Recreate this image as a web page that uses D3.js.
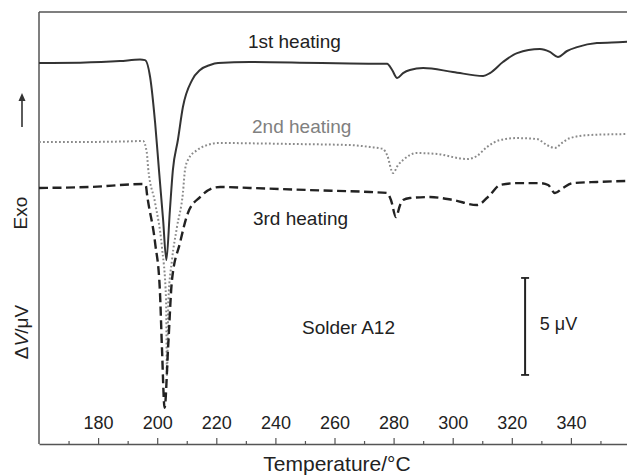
<!DOCTYPE html>
<html>
<head>
<meta charset="utf-8">
<script src="https://cdn.jsdelivr.net/npm/d3@7"></script>
<style>
    body { margin: 0; background: #fff; }
    text { font-family: "Liberation Sans", Arial, sans-serif; fill: #222; }
</style>
</head>
<body>
<div id="chart"></div>
<script>
// DTA traces: [temperature in °C, signal in µV]
const heating1 = [
    [160, 19.64], [173.9, 19.66], [187.4, 19.74], [194.2, 19.82], [195.9, 19.79],
    [197.6, 18.92], [199.3, 16.55], [200.6, 14.12], [202.0, 11.55], [203.1, 9.48],
    [204.3, 12.06], [205.3, 14.12], [207.0, 15.67], [208.7, 17.37], [211.8, 18.76],
    [214.5, 19.28], [217.9, 19.54], [220.6, 19.64], [231.4, 19.69], [248.3, 19.66],
    [265.2, 19.61], [277.8, 19.60], [279.5, 19.28], [281.2, 18.87], [283.2, 19.12],
    [285.5, 19.28], [290.0, 19.38], [300.1, 19.18], [310.3, 18.97], [312.6, 19.12],
    [317.0, 19.69], [321.8, 20.15], [329.5, 20.36], [332.9, 20.21], [335.6, 19.95],
    [338.7, 20.26], [342.1, 20.46], [348.8, 20.67], [357.6, 20.72], [360, 20.74]
];

const heating2 = [
    [160, 15.57], [175, 15.57], [190, 15.60], [195.2, 15.62], [196.5, 15.00],
    [196.9, 14.28], [199.3, 12.42], [201.6, 10.15], [203.0, 7.42], [203.3, 3.56],
    [203.8, 7.42], [205.0, 9.48], [206.7, 11.19], [208.7, 12.94], [209.4, 14.12],
    [210.4, 14.64], [213.5, 15.15], [216.9, 15.41], [220.6, 15.52], [231.4, 15.50],
    [248.3, 15.46], [265.2, 15.41], [272.0, 15.31], [276.4, 15.21], [277.8, 14.90],
    [279.8, 13.97], [281.5, 14.38], [283.2, 14.64], [287.9, 15.00], [294.7, 14.95],
    [304.8, 14.69], [308.2, 14.85], [311.6, 15.31], [316.0, 15.67], [321.8, 15.77],
    [328.5, 15.72], [331.9, 15.41], [334.6, 15.26], [337.0, 15.52], [339.7, 15.77],
    [346.5, 15.93], [360, 15.98]
];

const heating3 = [
    [160, 13.20], [177.3, 13.25], [195.2, 13.40], [196.2, 13.30], [196.5, 12.94],
    [199.3, 10.36], [200.9, 7.94], [201.6, 5.00], [202.5, 1.86], [203.7, 5.00],
    [205.0, 8.45], [207.7, 10.36], [210.4, 11.91], [214.5, 12.73], [218.9, 13.20],
    [221.3, 13.25], [231.4, 13.20], [251.7, 13.09], [272.0, 12.99], [277.8, 12.94],
    [279.1, 12.58], [280.8, 11.70], [282.2, 12.32], [283.2, 12.58], [285.5, 12.68],
    [292.3, 12.73], [300.1, 12.58], [308.2, 12.32], [312.6, 12.84], [316.0, 13.35],
    [321.8, 13.45], [329.5, 13.45], [332.3, 13.35], [334.6, 12.94], [337.3, 13.20],
    [340.7, 13.45], [348.8, 13.51], [360, 13.56]
];

const majorTicks = [180, 200, 220, 240, 260, 280, 300, 320, 340];
const minorTicks = [170, 190, 210, 230, 250, 270, 290, 310, 330, 350];

// 5 µV scale bar: temperature position, bottom and top in µV
const scaleBar = { t: 324.5, from: 3.56, to: 8.56 };

const margin = { top: 12, right: 0, bottom: 31, left: 39 };
const width = 627 - margin.left - margin.right;
const height = 475 - margin.top - margin.bottom;

const svg = d3.select("#chart")
    .append("svg")
    .attr("width", width + margin.left + margin.right)
    .attr("height", height + margin.top + margin.bottom);

const g = svg.append("g")
    .attr("transform", `translate(${margin.left}, ${margin.top})`);

const xScale = d3.scaleLinear()
    .domain([160, 360])
    .range([0, 591]);

const yScale = d3.scaleLinear()
    .domain([0, 22.27])
    .range([height, 0]);

// Frame: left and top edges (bottom comes from the axis)
g.append("line")
    .attr("x1", 0).attr("x2", 0)
    .attr("y1", 0).attr("y2", height)
    .style("stroke", "#555").style("stroke-width", 1.5);
g.append("line")
    .attr("x1", 0).attr("x2", width)
    .attr("y1", 0).attr("y2", 0)
    .style("stroke", "#555").style("stroke-width", 1.5);

// Ticks point into the plot, labels sit above the axis line
const xAxis = g.append("g")
    .attr("class", "x-axis")
    .attr("transform", `translate(0, ${height})`)
    .call(d3.axisTop(xScale)
        .tickValues(majorTicks)
        .tickSize(6)
        .tickSizeOuter(0)
        .tickPadding(9)
        .tickFormat(d3.format("d")));
xAxis.select(".domain").style("stroke", "#555").style("stroke-width", 1.5);
xAxis.selectAll("line").style("stroke", "#555").style("stroke-width", 1.2);
xAxis.selectAll("text")
    .style("font-size", "18px")
    .style("fill", "#222")
    .style("font-family", "'Liberation Sans', Arial, sans-serif");

const minorAxis = g.append("g")
    .attr("transform", `translate(0, ${height})`)
    .call(d3.axisTop(xScale)
        .tickValues(minorTicks)
        .tickSize(3)
        .tickFormat(""));
minorAxis.select(".domain").remove();
minorAxis.selectAll("line").style("stroke", "#555").style("stroke-width", 1.2);

// Traces
const line = d3.line()
    .x(d => xScale(d[0]))
    .y(d => yScale(d[1]))
    .curve(d3.curveMonotoneX);

g.append("path")
    .datum(heating1)
    .attr("d", line)
    .style("fill", "none")
    .style("stroke", "#333")
    .style("stroke-width", 2);

g.append("path")
    .datum(heating2)
    .attr("d", line)
    .style("fill", "none")
    .style("stroke", "#8a8a8a")
    .style("stroke-width", 2)
    .style("stroke-dasharray", "1.8,2.2");

g.append("path")
    .datum(heating3)
    .attr("d", line)
    .style("fill", "none")
    .style("stroke", "#222")
    .style("stroke-width", 2.4)
    .style("stroke-dasharray", "9,4.5");

// Curve labels
const labels = [
    { text: "1st heating", t: 230.7, v: 20.41, color: "#222" },
    { text: "2nd heating", t: 232.1, v: 16.03, color: "#808080" },
    { text: "3rd heating", t: 232.4, v: 11.29, color: "#222" },
    { text: "Solder A12", t: 249.0, v: 5.67, color: "#222" },
    { text: "5 \u03BCV", t: 329.5, v: 5.88, color: "#222" }
];
g.selectAll(".curve-label")
    .data(labels)
    .enter()
    .append("text")
    .attr("class", "curve-label")
    .attr("x", d => xScale(d.t))
    .attr("y", d => yScale(d.v))
    .style("font-size", d => d.text.startsWith("5") ? "18px" : "19px")
    .style("fill", d => d.color)
    .text(d => d.text);

// Scale bar with end caps
const barX = xScale(scaleBar.t);
g.append("line")
    .attr("x1", barX).attr("x2", barX)
    .attr("y1", yScale(scaleBar.from)).attr("y2", yScale(scaleBar.to))
    .style("stroke", "#222").style("stroke-width", 2);
g.selectAll(".bar-cap")
    .data([scaleBar.from, scaleBar.to])
    .enter()
    .append("line")
    .attr("class", "bar-cap")
    .attr("x1", barX - 4).attr("x2", barX + 4)
    .attr("y1", d => yScale(d)).attr("y2", d => yScale(d))
    .style("stroke", "#222").style("stroke-width", 1.8);

// Axis titles
svg.append("text")
    .attr("x", 337)
    .attr("y", 471)
    .attr("text-anchor", "middle")
    .style("font-size", "21px")
    .text("Temperature/\u00B0C");

svg.append("text")
    .attr("transform", "translate(27, 213) rotate(-90)")
    .attr("text-anchor", "middle")
    .style("font-size", "19px")
    .text("Exo");

const yTitle = svg.append("text")
    .attr("transform", "translate(28, 332) rotate(-90)")
    .attr("text-anchor", "middle")
    .style("font-size", "19px");
yTitle.append("tspan").text("\u0394");
yTitle.append("tspan").style("font-style", "italic").text("V");
yTitle.append("tspan").text("/\u03BCV");

// Exo direction arrow
svg.append("line")
    .attr("x1", 22).attr("x2", 22)
    .attr("y1", 127).attr("y2", 100)
    .style("stroke", "#333").style("stroke-width", 1.6);
svg.append("path")
    .attr("d", "M22,93 L18.5,101 L25.5,101 Z")
    .style("fill", "#333");
</script>
</body>
</html>
